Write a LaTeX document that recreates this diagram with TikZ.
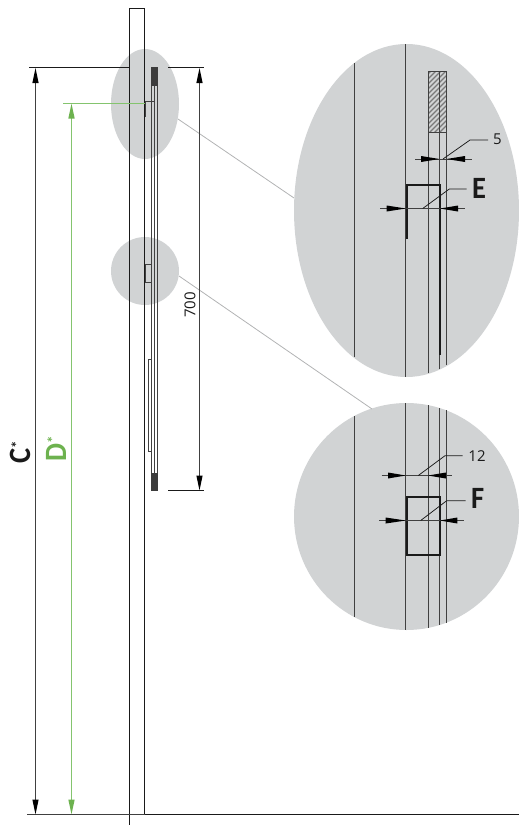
\documentclass[tikz,border=0pt]{standalone}
\usepackage{fontspec}
\setmainfont{Open Sans}
\newfontfamily\labelfont{Carlito}
\usetikzlibrary{arrows.meta,calc}
\definecolor{halo}{HTML}{D1D3D4}
\definecolor{greenD}{HTML}{6DB24F}
\definecolor{greenL}{HTML}{84C46E}
\definecolor{ink}{HTML}{1A1A1A}
\definecolor{inkg}{HTML}{404040}
\newcommand{\wedgetip}[2]{\fill[black] (#2) -- ($(#1)+(0,-3)$) -- ($(#1)+(0,3)$) -- cycle;}
\newcommand{\bigtext}[1]{\scalebox{0.92}[1]{#1}}
\newcommand{\supstar}{\raisebox{8pt}{\fontsize{15}{15}\selectfont *}}
\tikzset{
  halofill/.style={fill=halo,draw=none},
  linkline/.style={draw=halo!85!black,line width=0.8pt},
  body/.style={draw=ink,line width=1pt},
  thinbody/.style={draw=inkg,line width=1pt},
  detail/.style={draw=inkg,line width=1pt},
  thick part/.style={draw=ink,line width=2pt},
  dimline/.style={draw=inkg,line width=0.85pt},
  arrowC/.style={draw=inkg,line width=1pt,{Triangle[length=15pt,width=6pt,color=black]}-{Triangle[length=15pt,width=6pt,color=black]}},
  arrowD/.style={draw=greenL,line width=1.4pt,{Triangle[length=15pt,width=6pt,color=greenD]}-{Triangle[length=15pt,width=6pt,color=greenD]}},
  leader/.style={draw=ink,line width=0.75pt},
  biglabel/.style={font=\fontsize{31}{31}\selectfont\labelfont\bfseries,inner sep=0pt,text=ink},
  smalllabel/.style={font=\fontsize{15}{15}\selectfont,inner sep=0pt,text=ink},
}
\begin{document}
\begin{tikzpicture}[x=1pt,y=-1pt]
\useasboundingbox (0,0) rectangle (519,825);
% magnifier shapes
\fill[halofill] (145,104) ellipse [x radius=34,y radius=55];
\fill[halofill] (145,271) circle [radius=34];
\fill[halofill] (406.5,210.5) ellipse [x radius=112.5,y radius=166.5];
\fill[halofill] (406.5,516.5) ellipse [x radius=112.5,y radius=113.5];
\draw[linkline] (178,119) -- (294,198);
\draw[linkline] (179,276) -- (372,409);
% wall
\draw[body] (129.5,825) -- (129.5,8.5) -- (144.5,8.5) -- (144.5,814.5) -- (519,814.5);
\draw[dimline,line width=1.1pt] (27,814.5) -- (144.5,814.5);
% panel
\draw[thinbody] (151.5,67) -- (151.5,491);
\draw[thinbody] (154.5,67) -- (154.5,491);
\draw[thinbody] (157.5,67) -- (157.5,491);
\fill[ink!85!white] (151,67) rectangle (158,85.5);
\fill[ink!85!white] (151,473) rectangle (158,491);
% small parts
\draw[detail] (145.5,117) -- (145.5,101.5) -- (154,101.5);
\draw[detail] (145.5,264.5) rectangle (151.5,282.5);
\draw[detail] (148.5,359.5) rectangle (151.5,451.5);
% top and bottom extension lines
\draw[body] (29,67.5) -- (129.5,67.5);
\draw[draw=greenL,line width=1.4pt] (63,103.5) -- (145,103.5);
\draw[body] (168,67.5) -- (204,67.5);
\draw[body] (168,490.5) -- (204,490.5);
% dimensions left and right
\coordinate (ctop) at (35.5,68);
\coordinate (cbot) at (35.5,814.5);
\coordinate (dtop) at (71.5,103.5);
\coordinate (dbot) at (71.5,814.5);
\coordinate (rtop) at (199.5,68);
\coordinate (rbot) at (199.5,490.5);
\draw[arrowC] (ctop) -- (cbot);
\draw[arrowD] (dtop) -- (dbot);
\draw[arrowC] (rtop) -- (rbot);
\node[smalllabel,rotate=90] (n700) at (190,305) {700};
\node[biglabel,rotate=90,anchor=base west] (nC) at (30,463.5) {\bigtext{C}\supstar};
\node[biglabel,rotate=90,anchor=base west,text=greenD] (nD) at (66,462) {\bigtext{D}\supstar};
% detail E
\draw[detail] (354.5,63) -- (354.5,357);
\draw[detail] (405.5,44) -- (405.5,377);
\begin{scope}
\clip (428,71.7) rectangle (446,132);
\foreach \k in {0,5,...,80} {\draw[inkg!70!white,line width=1.1pt] (420,{72+\k}) -- (452,{72+\k-32});}
\end{scope}
\draw[detail] (428.5,71.5) rectangle (446.5,132.5);
\draw[detail] (428.5,132) -- (428.5,373);
\draw[detail] (446.5,132) -- (446.5,365);
\draw[detail] (439.5,71.5) -- (439.5,369);
\draw[thick part] (407,239) -- (407,185) -- (440,185) -- (440,355);
\coordinate (fiveL) at (415,159);
\coordinate (fiveR) at (471.7,159);
\draw[dimline] (fiveL) -- (fiveR);
\draw[leader] (443,159) -- (470,140) -- (488,140);
\node[smalllabel] (n5) at (497.5,139.5) {5};
\wedgetip{421,159}{439.5,159}
\wedgetip{465,159}{446.5,159}
\coordinate (eL) at (380,208.5);
\coordinate (eR) at (465,208.5);
\draw[dimline] (eL) -- (eR);
\draw[leader] (422.7,208.5) -- (449.3,189) -- (466.7,189);
\node[biglabel] (nE) at (479,188) {\bigtext{E}};
\wedgetip{386.7,208.5}{405.7,208.5}
\wedgetip{458,208.5}{440,208.5}
% detail F
\draw[detail] (354.5,416) -- (354.5,617);
\draw[detail] (405.5,403) -- (405.5,630);
\draw[detail] (428.5,405) -- (428.5,628);
\draw[detail] (439.5,408) -- (439.5,625);
\draw[detail] (446.5,410) -- (446.5,623);
\draw[thick part] (407,497) rectangle (440,555);
\coordinate (tL) at (381.7,475.5);
\coordinate (tR) at (452.3,475.5);
\draw[dimline] (tL) -- (tR);
\draw[leader] (418.3,475.5) -- (445,455.7) -- (462.7,455.7);
\node[smalllabel] (n12) at (477,455.7) {12};
\wedgetip{388,475.5}{405.7,475.5}
\wedgetip{446,475.5}{428,475.5}
\coordinate (fL) at (379,520.5);
\coordinate (fR) at (464,520.5);
\draw[dimline] (fL) -- (fR);
\draw[leader] (420.7,520.5) -- (446.7,500.7) -- (465.7,500.7);
\node[biglabel] (nF) at (477.7,498) {\bigtext{F}};
\wedgetip{385.7,520.5}{405.7,520.5}
\wedgetip{457.3,520.5}{440,520.5}
\end{tikzpicture}
\end{document}
